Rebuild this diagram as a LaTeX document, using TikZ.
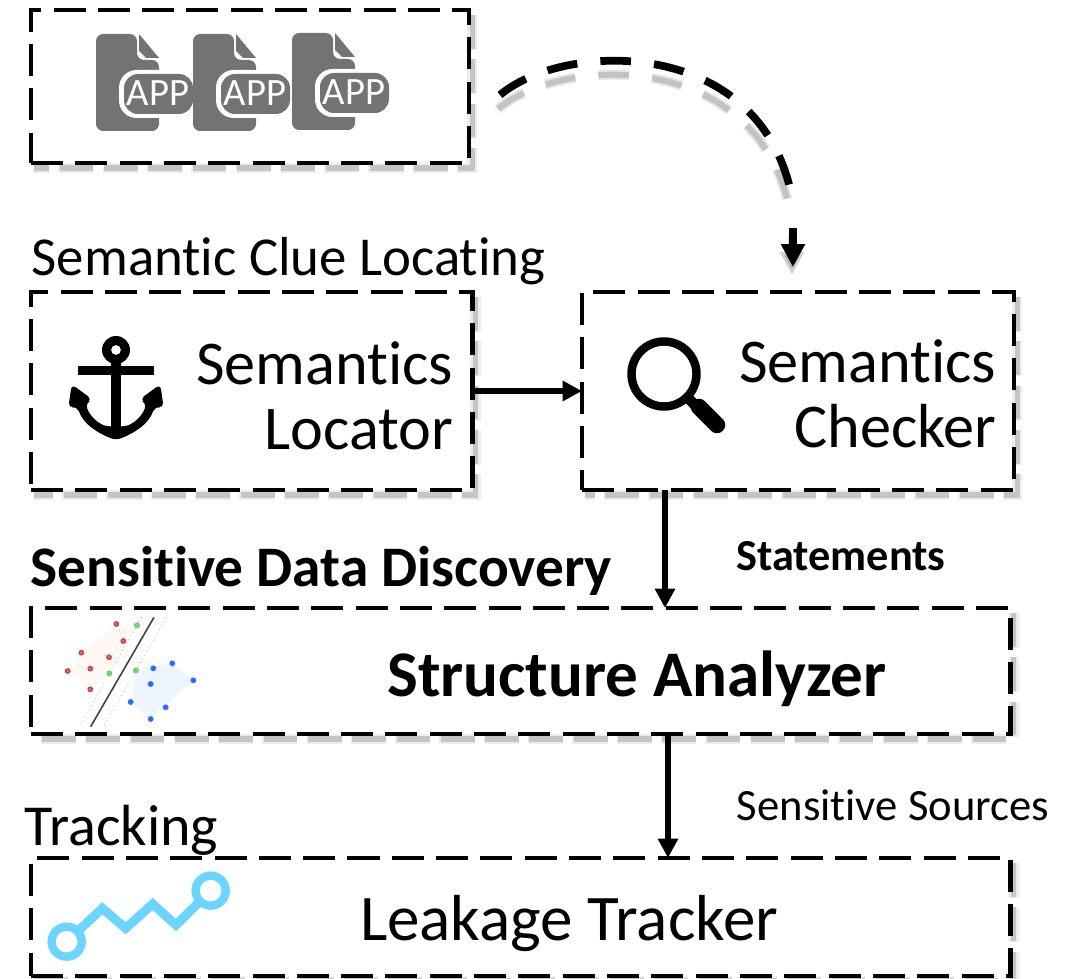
\documentclass[tikz,border=0pt]{standalone}
\usepackage{fontspec}
\setmainfont[Ligatures=NoCommon]{Carlito}
\usetikzlibrary{arrows.meta,positioning}
\definecolor{icongray}{HTML}{737373}
\definecolor{trackblue}{HTML}{6BD4FF}
\tikzset{
>={Triangle[length=5.5pt,width=5.5pt]}, % bold arrow heads
x=0.01cm,
y=-0.01cm,
softshade/.style={preaction={draw=black,opacity=.07,line width=3pt,dash pattern=on 10pt off 2.6pt,transform canvas={shift={(3,5)}}},
  draw=black,opacity=.17,line width=1.5pt,dash pattern=on 9.6pt off 3pt,transform canvas={shift={(3,5)}}},
softcurve/.style={preaction={draw=black,opacity=.1,line width=2.8pt,dash pattern=on 8.7pt off 6.6pt,transform canvas={shift={(-2,14)}}},
  preaction={draw=black,opacity=.15,line width=1.7pt,dash pattern=on 8.7pt off 6.6pt,transform canvas={shift={(-2,14)}}}},
softtip/.style={preaction={draw=black,opacity=.18,line width=2pt,transform canvas={shift={(-1,8)}}}},
stagebox/.style={draw,line width=1.3pt,dash pattern=on 9.1pt off 3.5pt,anchor=north west,inner sep=0,outer sep=0},
flowline/.style={->,line width=1.6pt},
every node/.style={align=center,inner sep=0}
}
\newcommand{\boxtext}{\fontsize{17.7}{18.5}\selectfont}
\newcommand{\widetext}{\fontsize{18.5}{19}\selectfont}

% one file icon, origin at its top left corner
\tikzset{
appicon/.pic={
  \fill[icongray,rounded corners=2] (0,0) -- (41,0) -- (41,26) -- (63,26) -- (63,97) -- (0,97) -- cycle;
  \fill[icongray] (43,0) -- (63,24) -- (50,24) -- (43,17) -- cycle;
  \fill[white,rounded corners=5] (23,36) rectangle (98,84);
  \fill[icongray,rounded corners=4] (28,40) rectangle (97,80);
  \node[text=white,font=\fontsize{11}{11}\selectfont] (-name) at (62,59) {APP};
}}

\begin{document}
\begin{tikzpicture}
\useasboundingbox (0,0) rectangle (1066,979);

% stages
\node[stagebox,minimum width=124.6,minimum height=43.5] (inputbox) at (31,10) {};
\node[stagebox,minimum width=125.5,minimum height=56.3] (locator) at (31,292) {};
\node[stagebox,minimum width=122.9,minimum height=56.3] (checker) at (582,292) {};
\node[stagebox,minimum width=278.5,minimum height=35.8] (analyzer) at (31,608) {};
\node[stagebox,minimum width=278.5,minimum height=33.5] (tracker) at (31,858) {};
\foreach \stage in {inputbox,locator,checker,analyzer,tracker}
  \draw[softshade] (\stage.north east) -- (\stage.south east) -- (\stage.south west);

% texts
\node[anchor=west] (cluelabel) at (31,261) {\fontsize{15.6}{17}\selectfont Semantic Clue Locating};
\node[anchor=west,font=\bfseries] (datalabel) at (30,571) {\fontsize{16.3}{17}\selectfont Sensitive Data Discovery};
\node[anchor=west] (tracklabel) at (24,830) {\fontsize{16.5}{17}\selectfont Tracking};
\node[anchor=east,align=right,font=\boxtext] (locatortext) at (454,396) {Semantics\\Locator};
\node[anchor=east,align=right,font=\boxtext] (checkertext) at (997,394) {Semantics\\Checker};
\node[font=\bfseries] (analyzertext) at (637,679) {\widetext Structure Analyzer};
\node (trackertext) at (569,924) {\widetext Leakage Tracker};
\node[font=\bfseries] (stmtlabel) at (841,556) {\fontsize{12.6}{14}\selectfont Statements};
\node (srclabel) at (893,805) {\fontsize{12.7}{14}\selectfont Sensitive Sources};

% file icons
\pic at (96,34) {appicon};
\pic at (193,34) {appicon};
\pic at (292,33) {appicon};

% anchor
\begin{scope}[shift={(20,330)},scale=1/3]
\fill[even odd rule] (288,60) circle (42) (288,60) circle (15);
\fill (174,108) rectangle (402,136);
\fill (274,95) rectangle (302,300);
\fill[rounded corners=1.5] (155,163) -- (217,208) -- (196,220) .. controls (210,260) and (240,285) .. (274,290)
  -- (302,290) .. controls (336,285) and (366,260) .. (380,220) -- (359,208) -- (421,163) -- (431,235) -- (405,228)
  .. controls (385,285) and (340,310) .. (288,331) .. controls (236,310) and (191,285) .. (171,228) -- (145,235) -- cycle;
\end{scope}

% magnifier
\draw[line width=2.4pt] (664,374) circle (32.5);
\draw[line width=3pt] (688,398) -- (696,406);
\draw[line width=4.7pt,line cap=round] (699,407) -- (717,425);

% separating line and points
\begin{scope}[shift={(20,600)},scale=1/3]
\fill[red!40!orange!4] (289,72) -- (351,76) -- (268,220) -- (211,268) -- (143,213) -- (184,158) -- cycle;
\fill[blue!50!cyan!7] (348,211) -- (457,190) -- (520,241) -- (392,357) -- (332,306) -- cycle;
\draw[line width=.45pt,black!75] (402,52) -- (212,380);
\draw[line width=.2pt,gray!70,densely dotted] (365,52) -- (178,380);
\draw[line width=.2pt,gray!70,densely dotted] (438,55) -- (250,380);
\foreach \px/\py in {289/72,310/123,184/158,267/172,143/213,211/206,211/268}
  \filldraw[fill=red!70!black!50!white,draw=red!70!black!70,line width=.5pt] (\px,\py) circle (6);
\foreach \px/\py in {351/76,268/220,348/211}
  \filldraw[fill=green!60!black!40!white,draw=green!70!black!60,line width=.5pt] (\px,\py) circle (6);
\foreach \px/\py in {400/205,457/190,520/241,392/252,332/306,437/322,392/357}
  \filldraw[fill=blue!60!cyan,draw=blue!70!cyan!80,line width=.5pt] (\px,\py) circle (6);
\end{scope}

% track icon
\begin{scope}[shift={(20,840)},scale=1/3]
\draw[trackblue,line width=2.6pt] (170,277) -- (247,205) -- (317,265) -- (398,192) -- (468,255) -- (542,182);
\draw[trackblue,line width=2.4pt] (140,305) circle (45);
\draw[trackblue,line width=2.4pt] (572,152) circle (45);
\end{scope}

% connectors
\coordinate (curvefrom) at (500,95);
\coordinate (curvemid) at (793,203);
\coordinate (curvetip) at (793,228);
\coordinate (curveto) at (793,267);
\draw[line width=2.2pt,dash pattern=on 8.7pt off 6.6pt,softcurve]
  (curvefrom) .. controls (565,40) and (765,35) .. (curvemid);
\draw[line width=2.2pt,->,>={Triangle[length=6.5pt,width=6.5pt]},softtip] (curvetip) -- (curveto);
\draw[flowline] (locator.east) -- (checker.west);
\draw[flowline] (665,0 |- checker.south) -- (665,0 |- analyzer.north);
\draw[flowline] (668,0 |- analyzer.south) -- (668,0 |- tracker.north);
\end{tikzpicture}
\end{document}
